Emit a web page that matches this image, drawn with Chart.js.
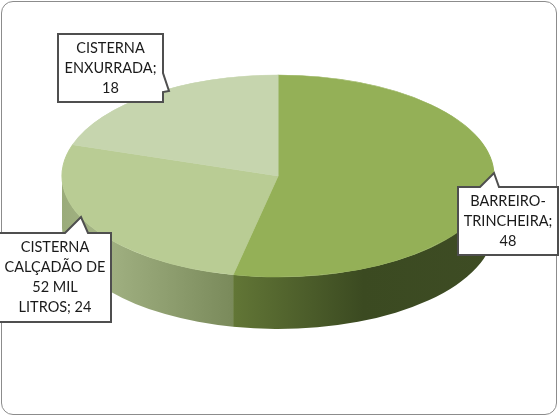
<!DOCTYPE html>
<html>
<head>
<meta charset="utf-8">
<script src="https://cdn.jsdelivr.net/npm/chart.js@4.4.0/dist/chart.umd.min.js"></script>
<style>
  html, body { margin: 0; padding: 0; background: #fff; }
  #frame { position: absolute; left: 1px; top: 1px; width: 554px; height: 412px;
           border: 1px solid #8c8c8c; border-radius: 12px; }
  #c { position: absolute; left: 0; top: 0; }
</style>
</head>
<body>
<div id="frame"></div>
<canvas id="c" width="559" height="417"></canvas>
<script>
// --- data ---
const categories = ['BARREIRO-TRINCHEIRA', 'CISTERNA CALÇADÃO DE 52 MIL LITROS', 'CISTERNA ENXURRADA'];
const values = [48, 24, 18];

// --- styles ---
const topColors = ['#94b057', '#b9cc94', '#c6d5ae'];
const sideColors = [
    [[0, '#627636'], [0.5, '#3b4a21'], [1, '#3e4c24']],
    [[0, '#9aab7a'], [0.2, '#a4b485'], [1, '#7a8a5b']],
    [[0, '#b0bf96'], [1, '#9cab82']]
];

// projection of the pie on the page (ellipse + thickness)
const PIE = { cx: 278, cy: 176, rx: 216, ry: 101, depth: 52 };

// callout boxes: rect, edge carrying the pointer, pointer base and tip, wrap width
const callouts = [
    { x: 458, y: 187, w: 100, h: 68, edge: 'top', b1: 480, b2: 499, tx: 494, ty: 173, wrap: 92 },
    { x: -1, y: 233, w: 112, h: 89, edge: 'top', b1: 65, b2: 88, tx: 81, ty: 217, wrap: 101.25 },
    { x: 58, y: 34, w: 105, h: 68, edge: 'right', b1: 73, b2: 92, tx: 169, ty: 91, wrap: 95 }
];

function drawSide(ctx, a, b, stops) {
    const { cx, cy, rx, ry, depth } = PIE;
    const xa = cx + rx * Math.cos(a), xb = cx + rx * Math.cos(b);
    const g = ctx.createLinearGradient(Math.min(xa, xb), 0, Math.max(xa, xb), 0);
    stops.forEach(([p, c]) => g.addColorStop(p, c));
    ctx.beginPath();
    ctx.ellipse(cx, cy, rx, ry, 0, a, b);
    ctx.lineTo(xb, cy + ry * Math.sin(b) + depth);
    ctx.ellipse(cx, cy + depth, rx, ry, 0, b, a, true);
    ctx.closePath();
    ctx.fillStyle = g;
    ctx.fill();
}

function wrapText(ctx, text, maxW) {
    const tokens = text.match(/[^ -]+-?/g);
    const lines = [];
    let cur = '';
    tokens.forEach(t => {
        const test = cur === '' ? t : cur + (cur.endsWith('-') ? '' : ' ') + t;
        if (cur !== '' && ctx.measureText(test).width > maxW) {
            lines.push(cur);
            cur = t;
        } else {
            cur = test;
        }
    });
    lines.push(cur);
    return lines;
}

const pie3d = {
    id: 'pie3d',
    beforeDatasetsDraw(chart) {
        const ctx = chart.ctx;
        const arcs = chart.getDatasetMeta(0).data;
        // front walls (only the half facing the viewer)
        arcs.forEach((arc, i) => {
            const a = Math.max(arc.startAngle, 0);
            const b = Math.min(arc.endAngle, Math.PI);
            if (b > a) drawSide(ctx, a, b, sideColors[i]);
        });
        // squash the top face into the ellipse
        const r = arcs[0].outerRadius;
        ctx.save();
        ctx.translate(PIE.cx, PIE.cy);
        ctx.scale(PIE.rx / r, PIE.ry / r);
        ctx.translate(-arcs[0].x, -arcs[0].y);
    },
    afterDatasetsDraw(chart) {
        chart.ctx.restore();
    },
    afterDraw(chart) {
        const ctx = chart.ctx;
        ctx.save();
        ctx.font = '14.5px Lato';
        callouts.forEach((c, i) => {
            const x1 = c.x, y1 = c.y, x2 = c.x + c.w, y2 = c.y + c.h;
            ctx.beginPath();
            ctx.moveTo(x1, y1);
            if (c.edge === 'top') {
                ctx.lineTo(c.b1, y1);
                ctx.lineTo(c.tx, c.ty);
                ctx.lineTo(c.b2, y1);
            }
            ctx.lineTo(x2, y1);
            if (c.edge === 'right') {
                ctx.lineTo(x2, c.b1);
                ctx.lineTo(c.tx, c.ty);
                ctx.lineTo(x2, c.b2);
            }
            ctx.lineTo(x2, y2);
            ctx.lineTo(x1, y2);
            ctx.closePath();
            ctx.fillStyle = '#fff';
            ctx.fill();
            ctx.lineWidth = 2;
            ctx.strokeStyle = '#4f4f4f';
            ctx.stroke();

            const lines = wrapText(ctx, categories[i] + '; ' + values[i], c.wrap);
            ctx.fillStyle = '#1a1a1a';
            ctx.textAlign = 'center';
            ctx.textBaseline = 'middle';
            const y0 = c.y + c.h / 2 - (lines.length - 1) * 10;
            lines.forEach((ln, k) => ctx.fillText(ln, c.x + c.w / 2, y0 + k * 20));
        });
        ctx.restore();
    }
};

new Chart(document.getElementById('c'), {
    type: 'pie',
    data: {
        labels: categories,
        datasets: [{
            data: values,
            backgroundColor: topColors,
            borderColor: topColors,
            borderWidth: 1,
            clip: false
        }]
    },
    options: {
        responsive: false,
        animation: false,
        events: [],
        layout: { padding: 0 },
        plugins: {
            legend: { display: false },
            tooltip: { enabled: false }
        }
    },
    plugins: [pie3d]
});
</script>
</body>
</html>
